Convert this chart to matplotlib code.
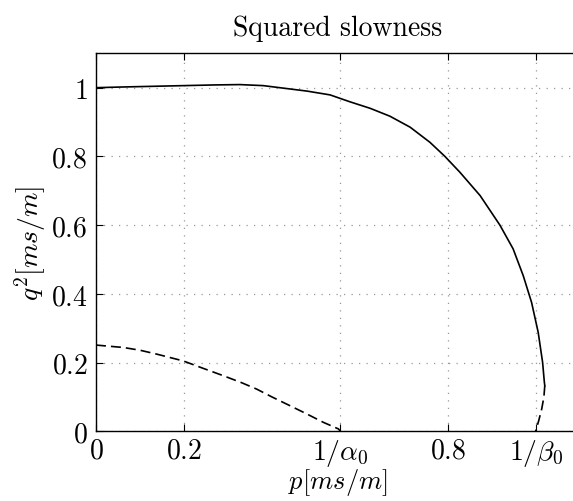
import matplotlib
matplotlib.use('Agg')
import matplotlib.pyplot as plt
import numpy as np

# Computer Modern look
plt.rcParams['font.family'] = 'cmr10'
plt.rcParams['mathtext.fontset'] = 'cm'
plt.rcParams['axes.formatter.use_mathtext'] = True

# data
alpha0 = 1.8
beta0 = 1.0

p_solid = [0.0, 0.06, 0.13, 0.2, 0.27, 0.327, 0.38, 0.43, 0.48, 0.532, 0.577,
           0.623, 0.668, 0.714, 0.759, 0.793, 0.827, 0.873, 0.918, 0.948, 0.971,
           0.990, 1.005, 1.015, 1.019, 1.020]
q_solid = [1.0, 1.002, 1.004, 1.006, 1.008, 1.009, 1.006, 0.998, 0.99, 0.979, 0.959,
           0.940, 0.917, 0.885, 0.841, 0.800, 0.754, 0.686, 0.600, 0.531, 0.453,
           0.375, 0.288, 0.201, 0.143, 0.133]

p_dash_s = [1.020, 1.018, 1.013, 1.006, 0.999]
q_dash_s = [0.133, 0.100, 0.065, 0.030, 0.0]

p_dash = [0.0, 0.062, 0.10, 0.137, 0.198, 0.24, 0.289, 0.33, 0.365, 0.40, 0.441,
          0.48, 0.517, 0.551, 1 / alpha0]
q_dash = [0.251, 0.244, 0.236, 0.225, 0.205, 0.185, 0.162, 0.142, 0.123, 0.100,
          0.0745, 0.050, 0.026, 0.007, 0.0]

xticks = [0, 0.2, 1 / alpha0, 0.8, 1 / beta0]
xticklabels = ['$0$', '$0.2$', r'$1/\alpha_0$', '$0.8$', r'$1/\beta_0$']
yticks = [0, 0.2, 0.4, 0.6, 0.8, 1.0]
yticklabels = ['$0$', '$0.2$', '$0.4$', '$0.6$', '$0.8$', '$1$']

fig = plt.figure(figsize=(5.73, 5.02), dpi=100)
ax = fig.add_axes([0.1675, 0.1388, 0.8447, 0.753])

ax.plot(p_solid, q_solid, 'k-', lw=1.2, solid_joinstyle='round')
ax.plot(p_dash_s, q_dash_s, 'k--', lw=1.2, dashes=(6, 3))
ax.plot(p_dash, q_dash, 'k--', lw=1.2, dashes=(6, 3))

ax.set_xlim(0, 1.1)
ax.set_ylim(0, 1.1)
ax.set_xticks(xticks)
ax.set_xticklabels(xticklabels, fontsize=20)
ax.set_yticks(yticks)
ax.set_yticklabels(yticklabels, fontsize=20)
ax.tick_params(direction='in', top=True, right=True, length=5, width=0.8)
ax.tick_params(axis='x', pad=4)
ax.tick_params(axis='y', pad=6)
ax.grid(True, linestyle=(0, (1, 5)), color='#999999', linewidth=0.9)

for s in ax.spines.values():
    s.set_linewidth(1.0)

ax.set_title('Squared slowness', fontsize=20, pad=13)
ax.set_xlabel('$p[ms/m]$', fontsize=19, labelpad=-1)
ax.set_ylabel('$q^2[ms/m]$', fontsize=20, labelpad=2)

fig.savefig('out.png', dpi=100)
